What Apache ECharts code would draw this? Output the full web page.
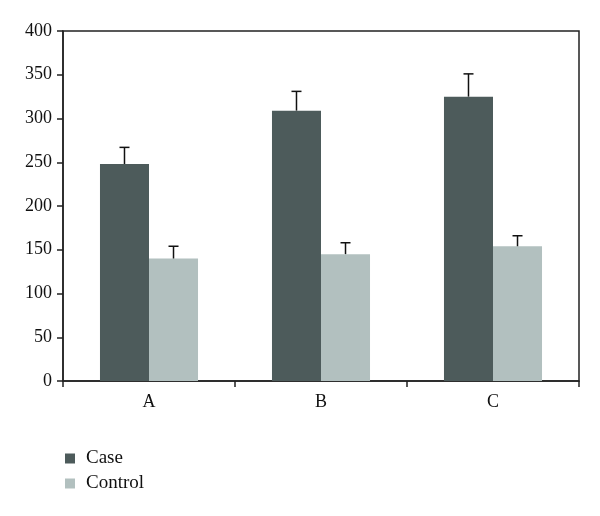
<!DOCTYPE html>
<html>
<head>
<meta charset="utf-8">
<script src="https://cdn.jsdelivr.net/npm/echarts@6/dist/echarts.min.js"></script>
<style>html,body{margin:0;padding:0;background:#fff}#c{width:600px;height:516px}</style>
</head>
<body>
<div id="c"></div>
<script>
var categories = ['A', 'B', 'C'];
var caseValues = [248, 309, 325];
var caseErrors = [19, 22, 26];
var controlValues = [140, 145, 154];
var controlErrors = [14, 13, 12];
var yTicks = [0, 50, 100, 150, 200, 250, 300, 350, 400];

var FONT = 'Liberation Serif';
var BAR_PCT = 0.285;

function errSeries(name, vals, errs, side) {
  return {
    type: 'custom',
    name: name + ' err',
    z: 5,
    data: vals.map(function (v, i) { return [i, v, v + errs[i]]; }),
    renderItem: function (params, api) {
      var i = api.value(0);
      var base = api.coord([i, api.value(1)]);
      var top = api.coord([i, api.value(2)]);
      var band = api.size([1, 0])[0];
      var x = base[0] + side * band * BAR_PCT / 2;
      var cap = 5;
      var st = { stroke: '#111', lineWidth: 1.5 };
      return {
        type: 'group',
        children: [
          { type: 'line', shape: { x1: x, y1: base[1], x2: x, y2: top[1] }, style: st },
          { type: 'line', shape: { x1: x - cap, y1: top[1], x2: x + cap, y2: top[1] }, style: st }
        ]
      };
    }
  };
}

var chart = echarts.init(document.getElementById('c'));
chart.setOption({
  animation: false,
  textStyle: { fontFamily: FONT },
  grid: { left: 63, right: 21, top: 31, bottom: 135, show: true, borderColor: '#222', borderWidth: 1.5, backgroundColor: 'transparent' },
  legend: {
    data: ['Case', 'Control'],
    orient: 'vertical',
    left: 60, top: 444,
    icon: 'rect', itemWidth: 10, itemHeight: 10, itemGap: 6,
    textStyle: { fontFamily: FONT, fontSize: 19, color: '#111', padding: [0, 0, 0, 6] }
  },
  xAxis: {
    type: 'category',
    data: categories,
    axisLine: { lineStyle: { color: '#222', width: 1.5 } },
    axisTick: { show: true, length: 6, lineStyle: { color: '#222', width: 1.5 } },
    axisLabel: { fontFamily: FONT, fontSize: 18, color: '#111', margin: 12 }
  },
  yAxis: {
    type: 'value',
    min: yTicks[0], max: yTicks[yTicks.length - 1], interval: 50,
    splitLine: { show: false },
    axisLine: { show: true, lineStyle: { color: '#222', width: 1.5 } },
    axisTick: { show: true, length: 6, lineStyle: { color: '#222', width: 1.5 } },
    axisLabel: { fontFamily: FONT, fontSize: 18, color: '#111', margin: 11 }
  },
  series: [
    { type: 'bar', name: 'Case', data: caseValues, barWidth: (BAR_PCT * 100) + '%', barGap: '0%', itemStyle: { color: '#4d5b5b' } },
    { type: 'bar', name: 'Control', data: controlValues, barWidth: (BAR_PCT * 100) + '%', barGap: '0%', itemStyle: { color: '#b2c0bf' } },
    errSeries('Case', caseValues, caseErrors, -1),
    errSeries('Control', controlValues, controlErrors, 1)
  ]
});
</script>
</body>
</html>
